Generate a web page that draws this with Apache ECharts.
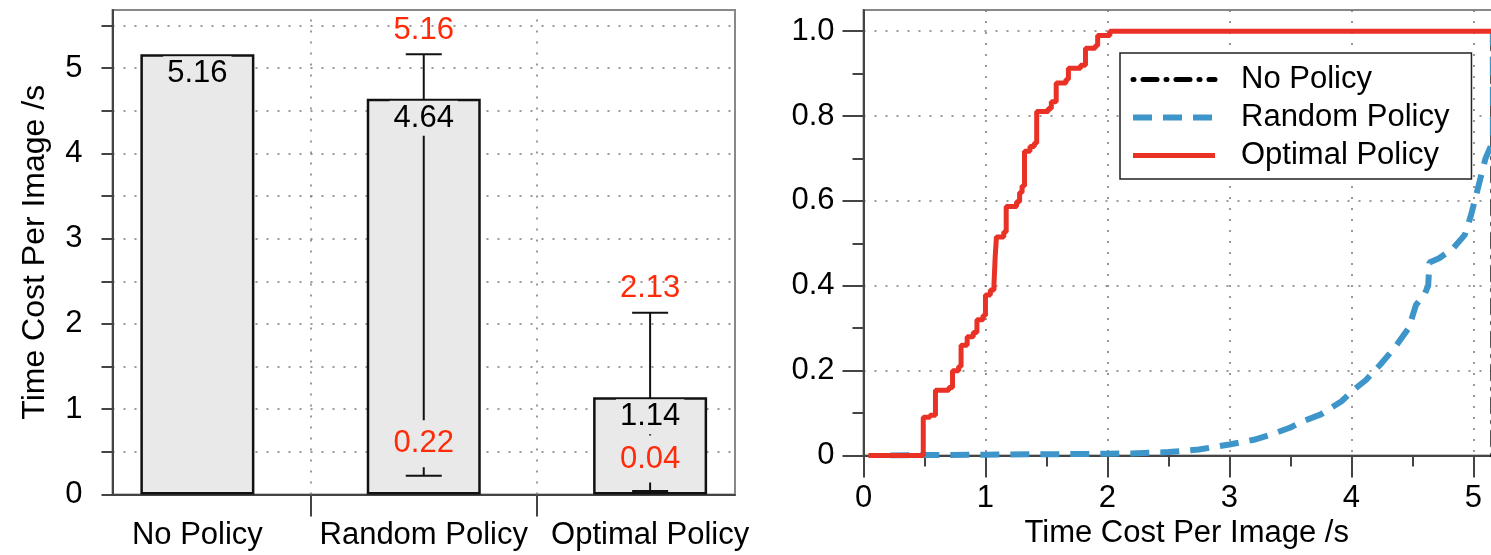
<!DOCTYPE html>
<html>
<head>
<meta charset="utf-8">
<script src="https://cdn.jsdelivr.net/npm/echarts@6/dist/echarts.min.js"></script>
<style>
  html, body { margin: 0; padding: 0; background: #fff; }
  #chart { width: 1491px; height: 555px; }
</style>
</head>
<body>
<div id="chart"></div>
<script>
// ---------- Left panel data ----------
const categories = ['No Policy', 'Random Policy', 'Optimal Policy'];
const meanValues = [5.16, 4.64, 1.14];
const minValues  = [5.16, 0.22, 0.04];
const maxValues  = [5.16, 5.16, 2.13];
const leftYTickValues = [0, 0.5, 1, 1.5, 2, 2.5, 3, 3.5, 4, 4.5, 5, 5.5];

// ---------- Right panel data (CDF of time cost) ----------
const optimalX = [0.04, 0.49, 0.545, 0.59, 0.70, 0.73, 0.78, 0.80, 0.85, 0.90, 0.93, 0.98, 1.00, 1.04, 1.07, 1.08, 1.09, 1.15, 1.17, 1.255, 1.28, 1.30, 1.32, 1.365, 1.40, 1.42, 1.515, 1.54, 1.58, 1.66, 1.68, 1.78, 1.82, 1.90, 1.92, 2.02, 6.0];
const optimalY = [0.00, 0.09, 0.095, 0.154, 0.16, 0.20, 0.21, 0.26, 0.28, 0.29, 0.32, 0.33, 0.378, 0.39, 0.405, 0.47, 0.515, 0.527, 0.587, 0.598, 0.62, 0.635, 0.717, 0.728, 0.736, 0.811, 0.818, 0.834, 0.878, 0.886, 0.913, 0.92, 0.96, 0.966, 0.99, 1.0, 1.0];

const randomX = [0.22, 0.5, 1.0, 1.5, 2.0, 2.2, 2.5, 2.75, 3.0, 3.2, 3.35, 3.5, 3.6, 3.75, 3.92, 4.02, 4.12, 4.24, 4.36, 4.47, 4.53, 4.6, 4.63, 4.64, 4.72, 4.83, 4.93, 4.98, 5.02, 5.06, 5.1, 5.16, 5.16, 6.0];
const randomY = [0, 0.001, 0.002, 0.003, 0.004, 0.005, 0.008, 0.014, 0.026, 0.037, 0.05, 0.066, 0.08, 0.097, 0.128, 0.155, 0.178, 0.215, 0.256, 0.3, 0.355, 0.38, 0.4, 0.455, 0.465, 0.487, 0.52, 0.565, 0.61, 0.655, 0.7, 0.74, 1.0, 1.0];

const noPolicyX = [5.16, 5.16, 6.0];
const noPolicyY = [0, 1.0, 1.0];

const seriesNames = ['No Policy', 'Random Policy', 'Optimal Policy'];
const rightYMajorTicks = [0, 0.2, 0.4, 0.6, 0.8, 1.0];
const rightYMinorTicks = [0.1, 0.3, 0.5, 0.7, 0.9];

// ---------- Styles ----------
const FONT = "'Liberation Sans', Arial, Helvetica, sans-serif";
const FS = 31;
const AXIS = '#444';
const RED_TXT = '#ff2a08';
const RED_LINE = '#ea3126';
const BLUE = '#3d95c9';
const BAR_FILL = '#e9e9e9';
const dotted = { type: [2, 9], color: '#777', width: 1.5 };
const axisLineStyle = { color: AXIS, width: 2 };
const zip = (xs, ys) => xs.map((x, i) => [x, ys[i]]);
const positions = categories.map((c, i) => i + 1);
const dividers = positions.slice(1).map(p => p - 0.5);

const lineStyles = {
  'No Policy': { color: '#000', width: 5, type: [1, 9, 14, 9], cap: 'round' },
  'Random Policy': { color: BLUE, width: 6, type: [19, 11] },
  'Optimal Policy': { color: RED_LINE, width: 5 }
};

const chart = echarts.init(document.getElementById('chart'), null, { renderer: 'canvas' });

const option = {
  animation: false,
  backgroundColor: '#fff',
  grid: [
    { left: 112.5, right: 756, top: 10, bottom: 60.5, show: true, borderColor: '#888', borderWidth: 2,
      backgroundColor: 'transparent', outerBoundsMode: 'none', containLabel: false },
    { left: 863.5, width: 646.4, top: 10, bottom: 99.5, show: true, borderColor: '#888', borderWidth: 2,
      backgroundColor: 'transparent', outerBoundsMode: 'none', containLabel: false }
  ],
  legend: {
    orient: 'vertical',
    left: 1120, top: 53,
    itemWidth: 82, itemHeight: 14, itemGap: 7,
    padding: [11, 22, 8, 10],
    borderColor: '#222', borderWidth: 1.5,
    backgroundColor: '#fff',
    textStyle: { fontSize: FS, fontFamily: FONT, color: '#000', padding: [0, 0, 0, 21] },
    itemStyle: { opacity: 0 },
    data: seriesNames.map(n => ({ name: n, lineStyle: lineStyles[n], itemStyle: { opacity: 0 } }))
  },
  xAxis: [
    {
      type: 'value', gridIndex: 0, min: 0.625, max: 3.375,
      axisLine: { show: true, lineStyle: axisLineStyle },
      axisTick: { show: true, customValues: dividers, length: 22, lineStyle: axisLineStyle },
      axisLabel: { customValues: positions, formatter: v => categories[Math.round(v) - 1] || '', fontSize: FS, fontFamily: FONT, color: '#000', margin: 25 },
      splitLine: { show: false }
    },
    {
      type: 'value', gridIndex: 1, min: 0, max: 5.3, interval: 1,
      axisLine: { show: true, onZero: false, lineStyle: axisLineStyle },
      axisTick: { show: true, length: 22, lineStyle: axisLineStyle },
      minorTick: { show: true, splitNumber: 2, length: 11, lineStyle: axisLineStyle },
      splitLine: { show: true, lineStyle: dotted },
      axisLabel: { fontSize: FS, fontFamily: FONT, color: '#000', margin: 27, showMaxLabel: false },
      name: 'Time Cost Per Image /s', nameLocation: 'middle', nameGap: 62,
      nameTextStyle: { fontSize: FS, fontFamily: FONT, color: '#000' }
    }
  ],
  yAxis: [
    {
      type: 'value', gridIndex: 0, min: 0, max: 5.68, interval: 1,
      axisLine: { show: true, lineStyle: axisLineStyle },
      axisTick: { show: true, customValues: leftYTickValues, length: 11, lineStyle: axisLineStyle },
      minorTick: { show: false },
      splitLine: { show: true, lineStyle: dotted },
      axisLabel: { fontSize: FS, fontFamily: FONT, color: '#000', margin: 30, showMaxLabel: false },
      name: 'Time Cost Per Image /s', nameLocation: 'middle', nameGap: 61,
      nameTextStyle: { fontSize: 32, fontFamily: FONT, color: '#000' }
    },
    {
      type: 'value', gridIndex: 1, min: 0, max: 1.05, interval: 0.2,
      axisLine: { show: true, onZero: false, lineStyle: axisLineStyle },
      axisTick: { show: true, customValues: rightYMajorTicks, length: 21, lineStyle: axisLineStyle },
      minorTick: { show: false },
      splitLine: { show: true, lineStyle: dotted },
      axisLabel: { fontSize: FS, fontFamily: FONT, color: '#000', margin: 29, showMaxLabel: false,
        formatter: v => (Math.abs(v) < 1e-9 ? '0' : v.toFixed(1)) }
    },
    {
      type: 'value', gridIndex: 1, min: 0, max: 1.05, position: 'left', offset: 0,
      axisLine: { show: false },
      axisTick: { show: true, customValues: rightYMinorTicks, length: 11, lineStyle: axisLineStyle },
      axisLabel: { show: false },
      splitLine: { show: false }
    }
  ],
  series: [
    {
      type: 'bar', xAxisIndex: 0, yAxisIndex: 0, silent: true,
      barWidth: 114,
      data: positions.map((p, i) => [p, meanValues[i]]),
      itemStyle: { color: BAR_FILL, borderColor: '#111', borderWidth: 2.5 },
      markLine: {
        silent: true, symbol: 'none', label: { show: false },
        lineStyle: dotted,
        data: dividers.map(d => ({ xAxis: d }))
      },
      z: 2
    },
    {
      type: 'custom', xAxisIndex: 0, yAxisIndex: 0, silent: true, z: 5,
      data: positions.map((p, i) => [p, meanValues[i], minValues[i], maxValues[i]]),
      renderItem: function (params, api) {
        const x = api.value(0), mean = api.value(1), lo = api.value(2), hi = api.value(3);
        const pM = api.coord([x, mean]), pL = api.coord([x, lo]), pH = api.coord([x, hi]);
        const ls = { stroke: '#111', lineWidth: 2 };
        const font = FS + 'px ' + FONT;
        const kids = [];
        if (hi > lo) {
          kids.push({ type: 'line', shape: { x1: pL[0], y1: pL[1], x2: pH[0], y2: pH[1] }, style: ls });
          kids.push({ type: 'line', shape: { x1: pH[0] - 18, y1: pH[1], x2: pH[0] + 18, y2: pH[1] }, style: ls });
          kids.push({ type: 'line', shape: { x1: pL[0] - 18, y1: pL[1], x2: pL[0] + 18, y2: pL[1] }, style: ls });
          kids.push({ type: 'text', x: pH[0], y: pH[1] - 24,
            style: { text: hi.toFixed(2), font: font, fill: RED_TXT, align: 'center', verticalAlign: 'middle' } });
          kids.push({ type: 'text', x: pL[0], y: pL[1] - 32,
            style: { text: lo.toFixed(2), font: font, fill: RED_TXT, align: 'center', verticalAlign: 'middle',
                     backgroundColor: BAR_FILL, padding: [8, 4] } });
        }
        kids.push({ type: 'text', x: pM[0], y: pM[1] + 19.5,
          style: { text: mean.toFixed(2), font: font, fill: '#000', align: 'center', verticalAlign: 'middle',
                   backgroundColor: BAR_FILL, padding: [2, 4] } });
        return { type: 'group', children: kids };
      }
    },
    {
      name: seriesNames[0], type: 'line', xAxisIndex: 1, yAxisIndex: 1, symbol: 'none', z: 2,
      data: zip(noPolicyX, noPolicyY),
      itemStyle: { color: '#000' },
      lineStyle: lineStyles['No Policy']
    },
    {
      name: seriesNames[1], type: 'line', xAxisIndex: 1, yAxisIndex: 1, symbol: 'none', z: 3,
      data: zip(randomX, randomY),
      itemStyle: { color: BLUE },
      lineStyle: lineStyles['Random Policy']
    },
    {
      name: seriesNames[2], type: 'line', xAxisIndex: 1, yAxisIndex: 1, symbol: 'none', z: 4,
      step: 'end',
      data: zip(optimalX, optimalY),
      itemStyle: { color: RED_LINE },
      lineStyle: lineStyles['Optimal Policy']
    }
  ]
};
chart.setOption(option);
</script>
</body>
</html>
